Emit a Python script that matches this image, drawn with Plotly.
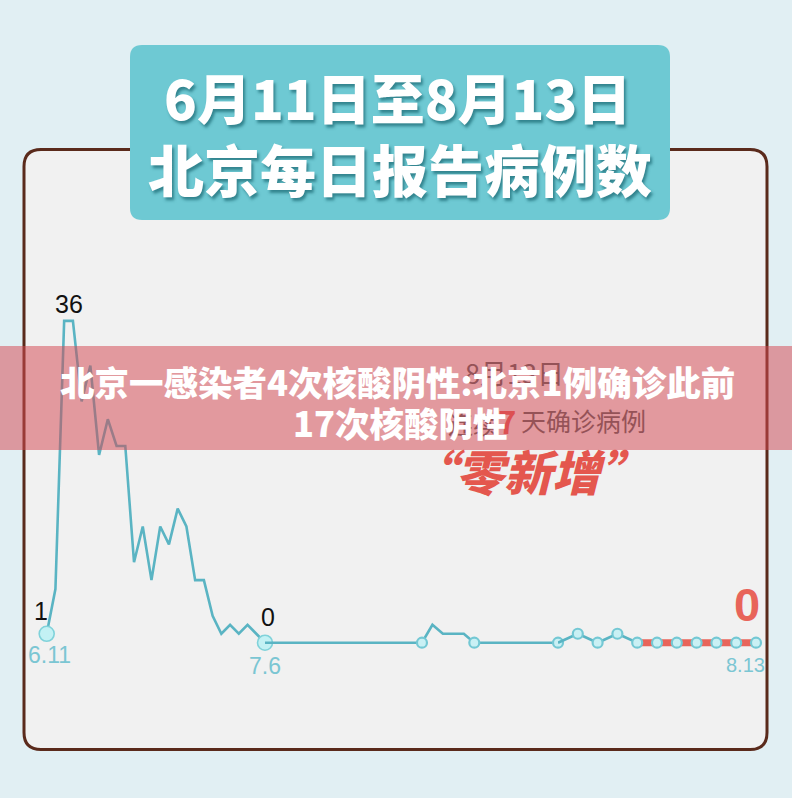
import plotly.graph_objects as go
import pandas as pd

W, H = 792, 798

# ---------------- data ----------------
dates = [f"{d.month}.{d.day}" for d in pd.date_range("2020-06-11", "2020-08-13")]
cases = [1, 6, 36, 36, 27, 31, 21, 25, 22, 22, 9, 13, 7, 13, 11, 15, 13, 7, 7, 3,          # June 11-30
         1, 2, 1, 2, 1, 0, 0, 0, 0, 0, 0, 0, 0, 0, 0, 0, 0, 0, 0, 0,                          # July 1-20
         0, 2, 1, 1, 1, 0, 0, 0, 0, 0, 0,                                                    # July 21-31
         0, 0, 0, 1, 0, 1, 0, 0, 0, 0, 0, 0, 0]                                              # Aug 1-13

segment_breaks = ["6.11", "7.6", "8.3", "8.13"]
big_marker_dates = ["6.11", "7.6"]
dot_marker_dates = ["7.21", "7.26", "8.3", "8.4", "8.5", "8.6", "8.7", "8.8",
                    "8.9", "8.10", "8.11", "8.12", "8.13"]
streak_start, streak_end = "8.7", "8.13"

title_lines = ["6月11日至8月13日", "北京每日报告病例数"]
banner_lines = ["北京一感染者4次核酸阴性:北京1例确诊此前", "17次核酸阴性"]

# ---------------- layout helpers ----------------
segment_px = [46.7, 265, 558, 756]      # horizontal pixel edges of the three time scales
zero_px, unit_px = 642.7, 8.94          # vertical scale


def px(x):
    return x / W


def py(y):
    return 1 - y / H


def rounded_path(x0, y0, x1, y1, r):
    X0, X1, Y0, Y1 = px(x0), px(x1), py(y0), py(y1)
    rx, ry = r / W, r / H
    return (f"M{X0+rx},{Y0} L{X1-rx},{Y0} Q{X1},{Y0} {X1},{Y0-ry} "
            f"L{X1},{Y1+ry} Q{X1},{Y1} {X1-rx},{Y1} L{X0+rx},{Y1} "
            f"Q{X0},{Y1} {X0},{Y1+ry} L{X0},{Y0-ry} Q{X0},{Y0} {X0+rx},{Y0} Z")


idx = {d: i for i, d in enumerate(dates)}
seg_idx = [idx[d] for d in segment_breaks]


def seg_of(i):
    for k in range(3):
        if seg_idx[k] <= i <= seg_idx[k + 1]:
            return k
    return 2


LINE = "#5ab4c3"
RED = "#e8645a"

fig = go.Figure()

# main line, one trace per time scale
for k in range(3):
    a, b = seg_idx[k], seg_idx[k + 1]
    fig.add_trace(go.Scatter(
        x=[i - a for i in range(a, b + 1)], y=cases[a:b + 1],
        xaxis=f"x{k+1}" if k else "x", yaxis="y",
        mode="lines", line=dict(color=LINE, width=2.6), hoverinfo="skip"))

# red zero streak
s0, s1 = idx[streak_start], idx[streak_end]
k = seg_of(s0)
fig.add_trace(go.Scatter(
    x=[i - seg_idx[k] for i in range(s0, s1 + 1)], y=cases[s0:s1 + 1],
    xaxis=f"x{k+1}" if k else "x", yaxis="y",
    mode="lines", line=dict(color=RED, width=7), hoverinfo="skip"))

# markers
for dlist, size, fill, edge, lw in [(dot_marker_dates, 10, "#c9f0f4", "#74c8d4", 2.2),
                                    (big_marker_dates, 15, "#c3f1f4", "#80d2da", 1.6)]:
    for k in range(3):
        pts = [idx[d] for d in dlist if seg_of(idx[d]) == k]
        if not pts:
            continue
        fig.add_trace(go.Scatter(
            x=[i - seg_idx[k] for i in pts], y=[cases[i] for i in pts],
            xaxis=f"x{k+1}" if k else "x", yaxis="y", cliponaxis=False,
            mode="markers",
            marker=dict(size=size, color=fill, line=dict(color=edge, width=lw)),
            hoverinfo="skip"))

layout_axes = {}
for k in range(3):
    name = "xaxis" if k == 0 else f"xaxis{k+1}"
    layout_axes[name] = dict(domain=[px(segment_px[k]), px(segment_px[k + 1])],
                             range=[0, seg_idx[k + 1] - seg_idx[k]],
                             visible=False, fixedrange=True, anchor="y")
ymin = -(H - zero_px) / unit_px
ymax = zero_px / unit_px
layout_axes["yaxis"] = dict(domain=[0, 1], range=[ymin, ymax], visible=False, fixedrange=True)

shapes = [
    # inner panel
    dict(type="path", path=rounded_path(24, 149.5, 767, 749.5, 17), xref="paper", yref="paper",
         fillcolor="#f1f1f1", line=dict(color="#5a2a1b", width=3), layer="below"),
    # title box
    dict(type="path", path=rounded_path(130, 45, 670, 220, 12), xref="paper", yref="paper",
         fillcolor="#6ec9d3", line=dict(width=0), layer="above"),
    # red news banner
    dict(type="rect", x0=0, x1=1, y0=py(450), y1=py(346), xref="paper", yref="paper",
         fillcolor="rgba(212,72,82,0.52)", line=dict(width=0), layer="above"),
]

CJK = "Noto Sans CJK SC"
NUM = "Liberation Sans, Arial"
NARROW = "Liberation Sans Narrow, Arial Narrow, Liberation Sans"

ann = []
# title
ann.append(dict(x=px(397), y=py(97), text=title_lines[0],
                font=dict(family=CJK, size=54, color="white", weight=900,
                          shadow="2px 3px 3px rgba(40,120,130,0.85)")))
ann.append(dict(x=px(400), y=py(167), text=title_lines[1],
                font=dict(family=CJK, size=56, color="white", weight=900,
                          shadow="2px 3px 3px rgba(40,120,130,0.85)")))
# texts lying under the translucent banner (colours as seen through it)
ann.append(dict(x=px(514), y=py(372), text="8月13日",
                font=dict(family=CJK, size=27, color="#955257")))
ann.append(dict(x=px(518), y=py(420), xanchor="right",
                text="连续<span style='color:#dc5052;font-size:31px;font-weight:bold'>7</span>",
                font=dict(family=CJK, size=25, color="#955257")))
ann.append(dict(x=px(519), y=py(420), xanchor="left", text="天确诊病例",
                font=dict(family=CJK, size=25, color="#955257")))
ann.append(dict(x=px(528), y=py(470), text="“零新增”",
                font=dict(family=CJK, size=48, color="#e4574e", weight=900, style="italic")))
# banner headline
ann.append(dict(x=px(397), y=py(381), text=banner_lines[0],
                font=dict(family=CJK, size=34.5, color="white", weight=900)))
ann.append(dict(x=px(400), y=py(422), text=banner_lines[1],
                font=dict(family=CJK, size=34.5, color="white", weight=900)))


def data_ann(date, text, xs, ys, font, xoff=0.0):
    i = idx[date]
    k = seg_of(i)
    return dict(x=i - seg_idx[k] + xoff, y=cases[i], xref=f"x{k+1}" if k else "x", yref="y",
                text=text, xshift=xs, yshift=ys, font=font)


peak_val = max(cases)
peak_days = [d for d, v in zip(dates, cases) if v == peak_val]
ann.append(data_ann(peak_days[0], str(peak_val), 0, 17,
                    dict(family=NUM, size=25, color="#111"), xoff=(len(peak_days) - 1) / 2))
ann.append(data_ann("6.11", str(cases[idx["6.11"]]), -6, 23, dict(family=NUM, size=25, color="#111")))
ann.append(data_ann("7.6", str(cases[idx["7.6"]]), 3, 26, dict(family=NUM, size=25, color="#111")))
ann.append(data_ann("6.11", "6.11", 3, -21, dict(family=NARROW, size=23, color="#7bc6d3")))
ann.append(data_ann("7.6", "7.6", 0, -23, dict(family=NARROW, size=23, color="#7bc6d3")))
ann.append(data_ann("8.13", "8.13", -11, -22, dict(family=NARROW, size=20, color="#7bc6d3")))
ann.append(data_ann("8.13", str(cases[idx["8.13"]]), -9, 38,
                    dict(family=NUM, size=47, color=RED, weight="bold")))

for a in ann:
    a.setdefault("xref", "paper")
    a.setdefault("yref", "paper")
    a.setdefault("showarrow", False)
    a.setdefault("xanchor", "center")
    a.setdefault("yanchor", "middle")

fig.update_layout(width=W, height=H, autosize=False,
                  margin=dict(l=0, r=0, t=0, b=0),
                  paper_bgcolor="#e1eff3", plot_bgcolor="rgba(0,0,0,0)",
                  showlegend=False, shapes=shapes, annotations=ann, **layout_axes)

fig.write_html("out.html", config={"displayModeBar": False},
               post_script="document.body.style.margin='0';document.body.style.overflow='hidden';")
